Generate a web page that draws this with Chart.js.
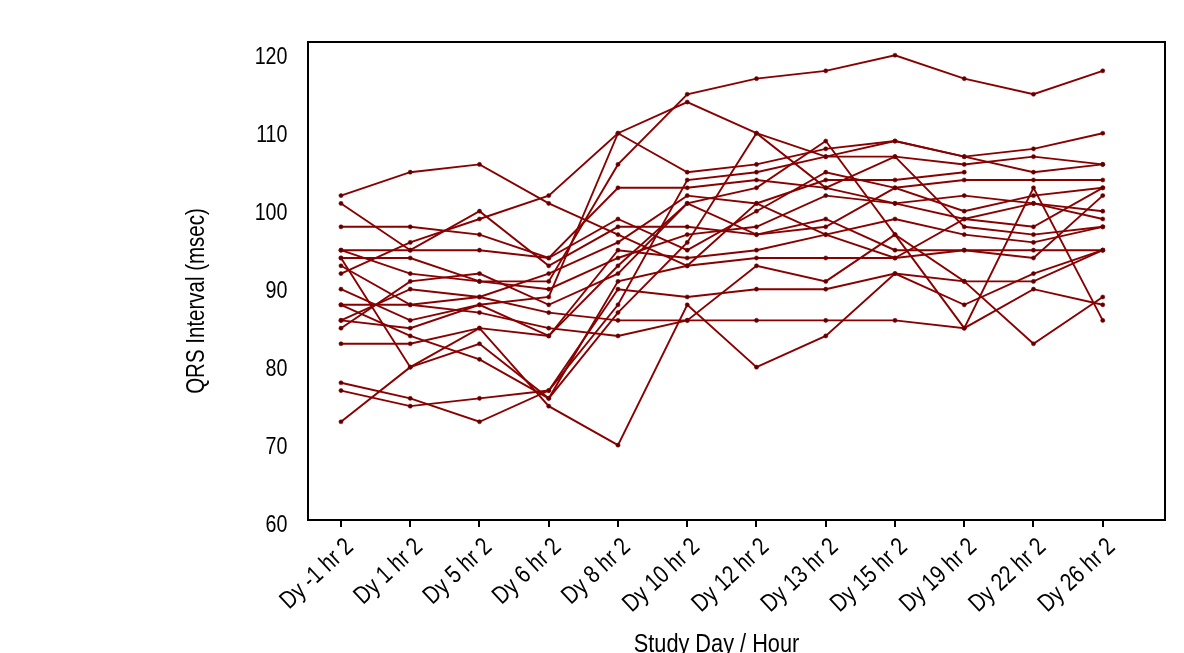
<!DOCTYPE html>
<html>
<head>
<meta charset="utf-8">
<script src="https://cdn.jsdelivr.net/npm/chart.js@4.4.1/dist/chart.umd.min.js"></script>
<style>
html,body{margin:0;padding:0;background:#fff;}
#wrap{width:1184px;height:653px;position:relative;}
</style>
</head>
<body>
<div id="wrap"><canvas id="c" width="1184" height="653"></canvas></div>
<script>
const categories = ["Dy -1 hr 2","Dy 1 hr 2","Dy 5 hr 2","Dy 6 hr 2","Dy 8 hr 2","Dy 10 hr 2",
  "Dy 12 hr 2","Dy 13 hr 2","Dy 15 hr 2","Dy 19 hr 2","Dy 22 hr 2","Dy 26 hr 2"];
const yTickValues = [60,70,80,90,100,110,120];
const xTitle = "Study Day / Hour";
const yTitle = "QRS Interval (msec)";

// QRS interval (msec) per subject, one value per study day / hour
const s01 = [95, 92, 91, 91, 106, 115, 117, 118, 120, 117, 115, 118];
const s02 = [92, 96, 99, 102, 110, 114, 110, 107, 109, 107, 108, 110];
const s03 = [90, 86, 88, 89, 110, 105, 106, 108, 109, 107, 105, 106];
const s04 = [73, 80, 85, 75, 70, 88, 80, 84, 92, 91, 83, 89];
const s05 = [86, 90, 89, 87, 86, 86, 86, 86, 86, 85, 103, 86];
const s06 = [88, 88, 87, 85, 84, 86, 93, 91, 97, 85, 90, 88];
const s07 = [78, 76, 73, 77, 90, 89, 90, 90, 92, 88, 92, 95];
const s08 = [88, 84, 81, 76, 91, 93, 94, 94, 94, 95, 95, 95];
const s09 = [77, 75, 76, 77, 88, 104, 105, 107, 107, 106, 107, 106];
const s10 = [94, 80, 83, 76, 87, 96, 110, 103, 107, 98, 97, 98];
const s11 = [85, 91, 92, 88, 92, 101, 103, 109, 97, 91, 91, 95];
const s12 = [93, 88, 89, 92, 96, 102, 101, 104, 104, 105, null, null];
const s13 = [101, 95, 100, 93, 98, 98, 97, 98, 103, 100, 102, 103];
const s14 = [94, 94, 91, 90, 94, 97, 98, 102, 101, 102, 101, 100];
const s15 = [98, 98, 97, 94, 99, 95, 100, 105, 103, 104, 104, 104];
const s16 = [95, 95, 95, 94, 103, 103, 104, 103, 101, 99, 101, 99];
const s17 = [83, 83, 85, 84, 95, 94, 95, 97, 99, 97, 96, 98];
const s18 = [86, 85, 88, 84, 93, 101, 97, 99, 95, 95, 94, 102];
const s19 = [102, 105, 106, 101, 97, 93, 101, 97, 94, 99, 98, 103];

const allSeries = [s01,s02,s03,s04,s05,s06,s07,s08,s09,s10,s11,s12,s13,s14,s15,s16,s17,s18,s19];

const LINE = '#880000';
const FONT = '"Liberation Sans", Arial, sans-serif';
const NARROW = 0.82; // horizontal squeeze to mimic a narrow sans face

const datasets = allSeries.map((arr, i) => ({
  label: 'Subject ' + (i + 1),
  data: arr.map((v, j) => ({x: j, y: v})),
  borderColor: LINE,
  backgroundColor: '#5a0000',
  pointBackgroundColor: '#5a0000',
  pointBorderColor: LINE,
  pointBorderWidth: 0.5,
  borderWidth: 1.9,
  pointRadius: 2.1,
  pointHoverRadius: 2.1,
  fill: false,
  spanGaps: false,
  tension: 0
}));

function narrowText(ctx, text, x, y, size, align, baseline, rot) {
  ctx.save();
  ctx.translate(x, y);
  if (rot) ctx.rotate(rot);
  ctx.scale(NARROW, 1);
  ctx.font = size + 'px ' + FONT;
  ctx.fillStyle = '#000';
  ctx.textAlign = align;
  ctx.textBaseline = baseline;
  ctx.fillText(text, 0, 0);
  ctx.restore();
}

const textPlugin = {
  id: 'frameAndText',
  afterDraw(chart) {
    const {ctx, chartArea: a} = chart;
    const xs = chart.scales.x, ys = chart.scales.y;
    ctx.save();
    ctx.strokeStyle = '#000';
    ctx.lineWidth = 2;
    ctx.strokeRect(a.left, a.top, a.right - a.left, a.bottom - a.top);
    ctx.restore();
    // x tick labels (rotated)
    const rot = -43 * Math.PI / 180;
    xs.ticks.forEach(t => {
      const px = xs.getPixelForValue(t.value);
      narrowText(ctx, categories[t.value], px + 9, a.bottom + 23.5, 25, 'right', 'middle', rot);
    });
    // y tick labels
    ys.ticks.forEach(t => {
      const py = ys.getPixelForValue(t.value);
      narrowText(ctx, String(t.value), a.left - 20.5, py + 2.5, 24, 'right', 'middle', 0);
    });
    // axis titles
    narrowText(ctx, xTitle, 716.5, 652, 26.5, 'center', 'alphabetic', 0);
    narrowText(ctx, yTitle, 197, 301, 25, 'center', 'middle', -Math.PI / 2);
  }
};

new Chart(document.getElementById('c'), {
  type: 'line',
  data: { datasets },
  plugins: [textPlugin],
  options: {
    responsive: false,
    animation: false,
    devicePixelRatio: 1,
    layout: { padding: { top: 42, right: 19, left: 0, bottom: 0 } },
    plugins: { legend: { display: false }, tooltip: { enabled: false } },
    scales: {
      x: {
        type: 'linear',
        min: -0.4765,
        max: 11.899,
        afterBuildTicks(scale) { scale.ticks = categories.map((c, i) => ({ value: i })); },
        afterFit(scale) { scale.height = 133; },
        grid: { display: true, drawOnChartArea: false, drawTicks: true, tickLength: 7, color: '#000', lineWidth: 2 },
        border: { display: false },
        ticks: { display: false, autoSkip: false, maxRotation: 0 },
        title: { display: false }
      },
      y: {
        type: 'linear',
        min: 60.4,
        max: 121.7,
        afterBuildTicks(scale) { scale.ticks = yTickValues.map(v => ({ value: v })); },
        afterFit(scale) { scale.width = 308; },
        grid: { display: false },
        border: { display: false },
        ticks: { display: false }
      }
    }
  }
});
</script>
</body>
</html>
